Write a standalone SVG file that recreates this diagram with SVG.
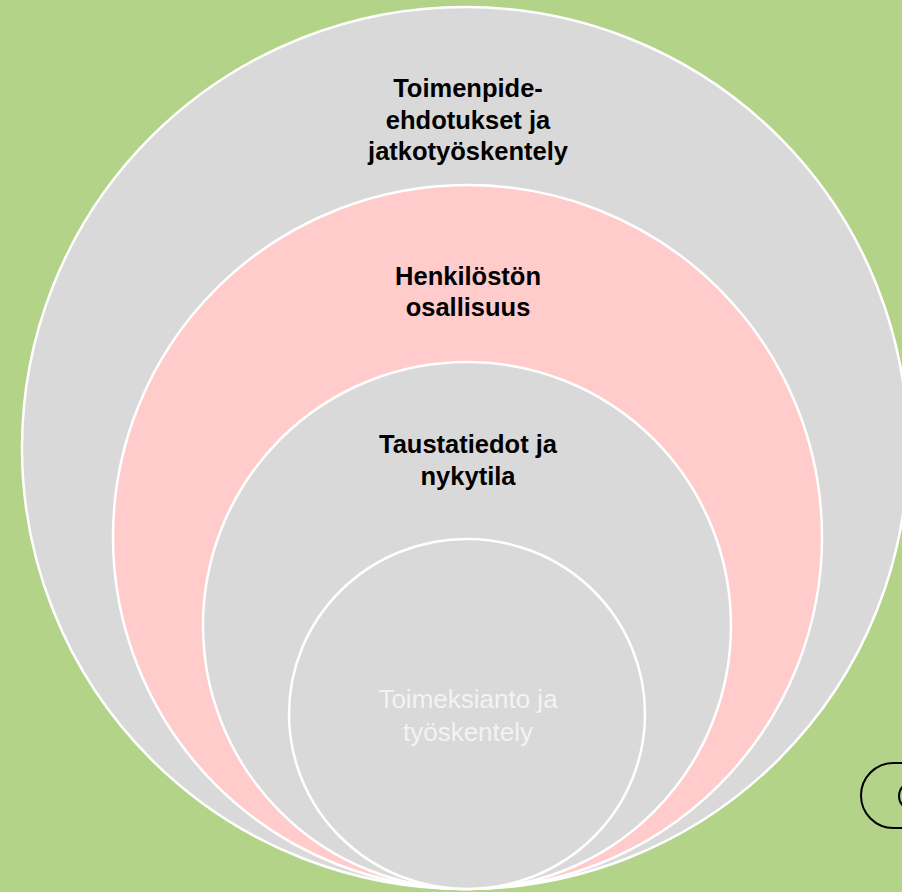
<svg xmlns="http://www.w3.org/2000/svg" width="902" height="892" viewBox="0 0 902 892">
  <style>
    .ring { stroke: #ffffff; stroke-width: 2.5; }
    .gray { fill: #d9d9d9; }
    .pink { fill: #ffcbcb; }
    .lbl { font-family: "Liberation Sans", Arial, sans-serif; font-weight: bold; font-size: 25.5px; fill: #000000; text-anchor: middle; }
    .lbl2 { font-family: "Liberation Sans", Arial, sans-serif; font-size: 26px; fill: #f3f3f3; text-anchor: middle; }
    .outline { fill: none; stroke: #000000; stroke-width: 2; }
  </style>
  <rect x="0" y="0" width="902" height="892" fill="#b3d389"/>
  <g id="node-outer">
    <ellipse class="ring gray" cx="465" cy="448" rx="443" ry="441"/>
    <text class="lbl" x="468" y="97">Toimenpide-</text>
    <text class="lbl" x="468" y="129">ehdotukset ja</text>
    <text class="lbl" x="468" y="160">jatkotyöskentely</text>
  </g>
  <g id="node-pink">
    <ellipse class="ring pink" cx="467.5" cy="537" rx="354.5" ry="352"/>
    <text class="lbl" x="468" y="285">Henkilöstön</text>
    <text class="lbl" x="468" y="316">osallisuus</text>
  </g>
  <g id="node-inner">
    <ellipse class="ring gray" cx="467" cy="625.5" rx="264" ry="263.5"/>
    <text class="lbl" x="468" y="453">Taustatiedot ja</text>
    <text class="lbl" x="468" y="485">nykytila</text>
  </g>
  <g id="node-core">
    <ellipse class="ring gray" cx="467" cy="714" rx="178" ry="175"/>
    <text class="lbl2" x="468" y="708">Toimeksianto ja</text>
    <text class="lbl2" x="468" y="741">työskentely</text>
  </g>
  <g id="node-corner">
    <rect class="outline" x="861" y="763" width="90" height="65" rx="32.5" ry="32.5"/>
    <ellipse class="outline" cx="913" cy="796" rx="14" ry="14"/>
  </g>
  <g id="connectors"/>
</svg>
